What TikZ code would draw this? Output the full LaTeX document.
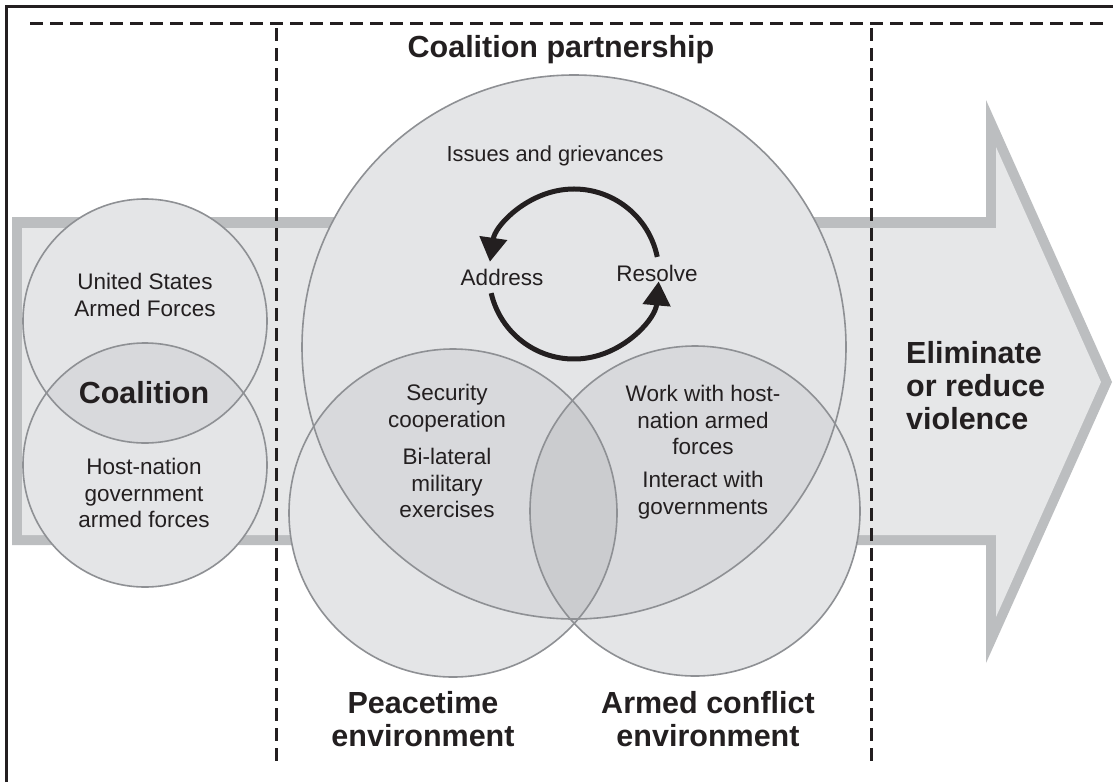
\documentclass[tikz,border=0pt]{standalone}
\usepackage{fontspec}
\setmainfont{Liberation Sans}
\usetikzlibrary{arrows.meta,calc}
\definecolor{arrowborder}{HTML}{BCBEC0}
\definecolor{arrowfill}{HTML}{E6E7E8}
\definecolor{cone}{HTML}{E4E5E7}
\definecolor{ctwo}{HTML}{D8D9DC}
\definecolor{cthree}{HTML}{CBCCCF}
\definecolor{cline}{HTML}{8E9094}
\definecolor{ink}{HTML}{231F20}
\begin{document}
\begin{tikzpicture}[x=1pt,y=-1pt,
  reg/.style={font=\fontsize{22.5}{26.5}\selectfont, text=ink, align=center, inner sep=0pt},
  bigtxt/.style={font=\fontsize{30.5}{33}\selectfont\bfseries, text=ink, align=center, inner sep=0pt},
  ring/.style={draw=cline, line width=1.6pt},
  sepline/.style={draw=ink, line width=3pt, dash pattern=on 13pt off 7pt},
  cyc/.style={draw=ink, line width=5pt, -{Triangle[length=24pt,width=27pt]}}]
\useasboundingbox (0,0) rectangle (1113,782);
\fill[white] (0,0) rectangle (1113,782);

% big arrow
\fill[arrowborder] (12,217) -- (986,217) -- (986,100) -- (1112,382) -- (986,663) -- (986,545) -- (12,545) -- cycle;
\fill[arrowfill] (22,228) -- (996,228) -- (996,147) -- (1101,382) -- (996,617) -- (996,535) -- (22,535) -- cycle;

% circle centres
\coordinate (us) at (145,321);
\coordinate (hn) at (145,465);
\coordinate (cp) at (574,347);
\coordinate (pe) at (453,513);
\coordinate (ac) at (695,511);

% single fills
\fill[cone] (us) circle[radius=122];
\fill[cone] (hn) circle[radius=122];
\fill[cone] (cp) circle[radius=272];
\fill[cone] (pe) circle[radius=164];
\fill[cone] (ac) circle[radius=165];

% pairwise overlaps
\begin{scope}
  \clip (us) circle[radius=122];
  \fill[ctwo] (hn) circle[radius=122];
\end{scope}
\begin{scope}
  \clip (cp) circle[radius=272];
  \fill[ctwo] (pe) circle[radius=164];
  \fill[ctwo] (ac) circle[radius=165];
\end{scope}
\begin{scope}
  \clip (pe) circle[radius=164];
  \fill[ctwo] (ac) circle[radius=165];
\end{scope}
% triple overlap
\begin{scope}
  \clip (cp) circle[radius=272];
  \clip (pe) circle[radius=164];
  \fill[cthree] (ac) circle[radius=165];
\end{scope}

% outlines
\draw[ring] (us) circle[radius=122];
\draw[ring] (hn) circle[radius=122];
\draw[ring] (cp) circle[radius=272];
\draw[ring] (pe) circle[radius=164];
\draw[ring] (ac) circle[radius=165];

% frame and separators
\draw[ink, line width=3pt] (6,782) -- (6,6) -- (1113,6);
\draw[sepline] (30,23) -- (1103,23);
\draw[sepline] (276,28) -- (276,766);
\draw[sepline] (871,28) -- (871,766);

% texts
\node[bigtxt] (title) at (561,50) {Coalition partnership};
\node[reg, font=\fontsize{21.8}{26}\selectfont] (issues) at (555,156) {Issues and grievances};
\node[reg] (address) at (502,277) {Address};
\node[reg] (resolve) at (657,273) {Resolve};

\node[reg] (ustxt) at (145,295) {United States\\Armed Forces};
\node[bigtxt] (coal) at (144,393) {Coalition};
\node[reg] (hntxt) at (144,493) {Host-nation\\government\\armed forces};

\node[reg] (sec) at (447,408) {Security\\cooperation};
\node[reg] (bilat) at (447,483) {Bi-lateral\\military\\exercises};
\node[reg] (work) at (703,420) {Work with host-\\nation armed\\forces};
\node[reg] (inter) at (703,495) {Interact with\\governments};

\node[bigtxt] (peace) at (423,719) {Peacetime\\environment};
\node[bigtxt] (armed) at (708,719) {Armed conflict\\environment};
\node[bigtxt, align=left, anchor=west] (elim) at (906,386) {Eliminate\\or reduce\\violence};

% address / resolve cycle
\coordinate (cyc) at (574,274);
\coordinate (rtop) at ($(cyc)+(-11.6:85)$);
\coordinate (abot) at ($(cyc)+(167:85)$);
\draw[cyc] (rtop) arc[start angle=-11.6, end angle=-171.7, radius=85];
\draw[cyc] (abot) arc[start angle=167, end angle=5, radius=85];
\end{tikzpicture}
\end{document}
